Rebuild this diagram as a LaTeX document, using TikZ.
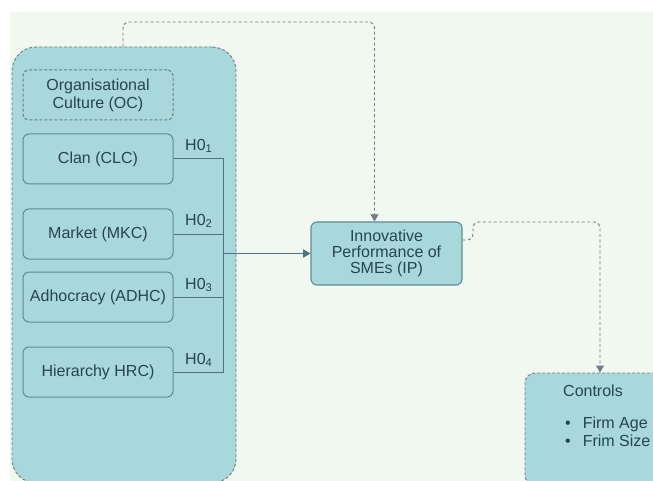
\documentclass[tikz,border=0pt]{standalone}
\usepackage{fontspec}
\setmainfont{Liberation Sans}
\usetikzlibrary{arrows, positioning}
\tikzset{>=triangle 60}

\definecolor{bgcol}{HTML}{F1F8F0}
\definecolor{boxfill}{HTML}{A8D8DB}
\definecolor{boxline}{HTML}{5F8B96}
\definecolor{txtcol}{HTML}{284352}
\definecolor{linkcol}{HTML}{4E7184}
\definecolor{dashcol}{HTML}{6E7C84}

\tikzset{
  every node/.style={font=\fontsize{16}{18}\selectfont, text=txtcol},
  frame/.style={draw=dashcol, fill=boxfill, dash pattern=on 3pt off 2pt, line width=0.9pt, rounded corners=24pt, inner sep=0pt},
  typebox/.style={draw=boxline, fill=boxfill, line width=1pt, rounded corners=6pt, minimum width=150pt, minimum height=50pt, align=center, inner sep=0pt},
  headbox/.style={typebox, draw=dashcol, dash pattern=on 3pt off 2pt},
  link/.style={draw=linkcol, line width=1pt},
  dashlink/.style={draw=dashcol, line width=0.9pt, dash pattern=on 3pt off 2.5pt, rounded corners=6pt},
  hyp/.style={anchor=west, inner sep=0pt}
}

\begin{document}
\begin{tikzpicture}[x=1pt, y=-1pt]
\clip (0,0) rectangle (653,481);
\fill[white] (0,0) rectangle (653,481);
\fill[bgcol] (10,12) rectangle (653,481);

% culture types
\node[frame, minimum width=224pt, minimum height=436pt] (oc frame) at (124,265){};
\node[headbox] (oc head) at (98,95){Organisational\\Culture (OC)};
\node[typebox] (clc) at (98,159){Clan (CLC)};
\node[typebox] (mkc) at (98,234){Market (MKC)};
\node[typebox] (adhc) at (98,297){Adhocracy (ADHC)};
\node[typebox] (hrc) at (98,372){Hierarchy HRC)};

\node[hyp] (h1) at (185,146){H0\textsubscript{1}};
\node[hyp] (h2) at (185,221){H0\textsubscript{2}};
\node[hyp] (h3) at (185,285){H0\textsubscript{3}};
\node[hyp] (h4) at (185,360){H0\textsubscript{4}};

% outcome and controls
\node[typebox, minimum width=151pt, minimum height=63pt, line width=1.1pt] (ip) at (386.5,253.5){Innovative\\[-2pt]Performance of\\[-2pt]SMEs (IP)};
\node[frame, rounded corners=10pt, minimum width=150pt, minimum height=112pt] (ctrl) at (600,429){};
\node[anchor=west, inner sep=0pt] (ctrl title) at (563,391){Controls};
\node[anchor=west, inner sep=0pt] (ctrl age) at (565,424){\textbullet\hspace{12pt}Firm Age};
\node[anchor=west, inner sep=0pt] (ctrl size) at (565,441){\textbullet\hspace{12pt}Frim Size};

\coordinate (bus) at (223,253.5);
\coordinate (top) at (123,22);
\coordinate (bend) at (473,222);

\draw[link] (clc.east) -- (clc.east -| bus) |- (hrc.east);
\draw[link] (mkc.east) -- (mkc.east -| bus);
\draw[link] (adhc.east) -- (adhc.east -| bus);
\draw[link, ->] (bus) -- (ip.west);

\draw[dashlink, ->] (oc frame.north -| top) -- (top) -| ([xshift=-12pt]ip.north);
\draw[dashlink, ->] ([yshift=13.5pt]ip.east) -| (bend) -| (ctrl.north);
\end{tikzpicture}
\end{document}
